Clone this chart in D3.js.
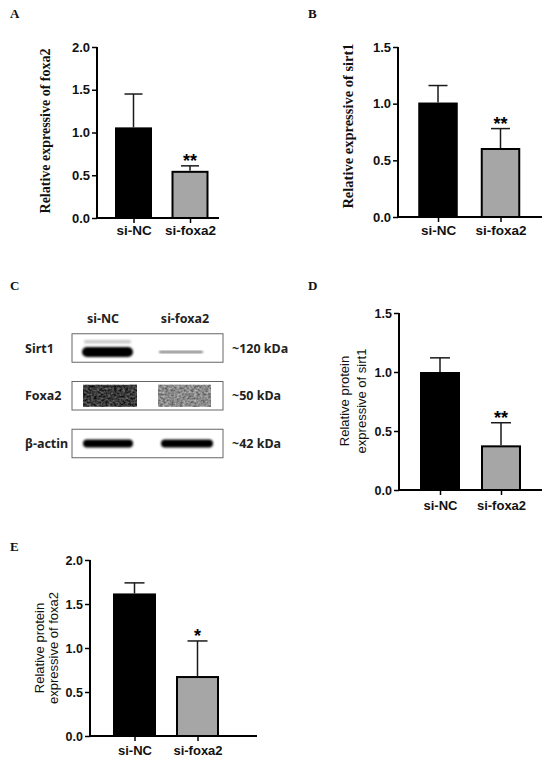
<!DOCTYPE html>
<html><head><meta charset="utf-8">
<script src="https://cdn.jsdelivr.net/npm/d3@7"></script>
<style>body{margin:0;background:#fff}svg{display:block}</style>
</head><body>
<svg id="c" width="550" height="762"></svg>
<script>
// ---- data ----
const groups = ["si-NC", "si-foxa2"];
const aMeans = [1.06, 0.54], aSD = [0.39, 0.07], aSig = ["", "**"];
const bMeans = [1.01, 0.60], bSD = [0.15, 0.18], bSig = ["", "**"];
const dMeans = [1.00, 0.37], dSD = [0.12, 0.20], dSig = ["", "**"];
const eMeans = [1.62, 0.67], eSD = [0.12, 0.41], eSig = ["", "*"];
const ticks2 = [0, 0.5, 1.0, 1.5, 2.0];
const ticks15 = [0, 0.5, 1.0, 1.5];
const blotLanes = ["si-NC", "si-foxa2"];
const blotProteins = ["Sirt1", "Foxa2", "β-actin"];
const blotSizes = ["~120 kDa", "~50 kDa", "~42 kDa"];
const blotIntensity = [[1.0, 0.12], [0.72, 0.32], [1.0, 1.0]];
const panelLetters = ["A", "B", "C", "D", "E"];

const svg = d3.select("#c");
const defs = svg.append("defs");
defs.append("filter").attr("id","blur").attr("x","-20%").attr("y","-50%").attr("width","140%").attr("height","200%")
  .append("feGaussianBlur").attr("stdDeviation", 1.1);
const tex = defs.append("filter").attr("id","tex").attr("x","0").attr("y","0").attr("width","100%").attr("height","100%");
tex.append("feTurbulence").attr("type","fractalNoise").attr("baseFrequency","0.35 0.5").attr("numOctaves",2).attr("seed",3).attr("result","n");
tex.append("feColorMatrix").attr("in","n").attr("type","matrix")
  .attr("values","0 0 0 0 0  0 0 0 0 0  0 0 0 0 0  1.6 0 0 0 -0.35").attr("result","a");
tex.append("feComposite").attr("in","SourceGraphic").attr("in2","a").attr("operator","in");

function barPanel(o) {
  const g = svg.append("g");
  const y = d3.scaleLinear().domain([0, o.ymax]).range([o.y0, o.yTop]);
  const s = o.c[1] - o.c[0], pi = 1 - o.bw / s;
  const x = d3.scaleBand().domain(groups).range([o.c[0] - s/2, o.c[1] + s/2])
    .paddingInner(pi).paddingOuter(pi/2);
  // bars
  g.selectAll("rect.bar").data(groups).join("rect")
    .attr("x", (d,i) => x(d) + (i ? 1 : 0))
    .attr("width", (d,i) => x.bandwidth() - (i ? 2 : 0))
    .attr("y", (d,i) => y(o.means[i]))
    .attr("height", (d,i) => y(0) - y(o.means[i]))
    .attr("fill", (d,i) => i ? "#a6a6a6" : "#000")
    .attr("stroke", "#000").attr("stroke-width", (d,i) => i ? 2 : 0);
  // error bars
  const cx = d => x(d) + x.bandwidth()/2;
  g.selectAll("line.err").data(groups).join("line")
    .attr("x1", cx).attr("x2", cx)
    .attr("y1", (d,i) => y(o.means[i]) - (i ? 1 : 0))
    .attr("y2", (d,i) => y(o.means[i] + o.sd[i]))
    .attr("stroke", "#1a1a1a").attr("stroke-width", 1.5);
  g.selectAll("line.cap").data(groups).join("line")
    .attr("x1", d => cx(d) - o.cap).attr("x2", d => cx(d) + o.cap)
    .attr("y1", (d,i) => y(o.means[i] + o.sd[i]))
    .attr("y2", (d,i) => y(o.means[i] + o.sd[i]))
    .attr("stroke", "#1a1a1a").attr("stroke-width", 1.5);
  // significance
  g.selectAll("text.sig").data(groups).join("text")
    .attr("x", cx).attr("y", (d,i) => y(o.means[i] + o.sd[i]) - o.sigGap)
    .attr("text-anchor","middle")
    .attr("font-family","Liberation Sans, Arial, sans-serif").attr("font-weight","bold")
    .attr("font-size", o.sigSize).text((d,i) => o.sig[i]);
  // y axis
  const ya = g.append("g").attr("transform", `translate(${o.ax},0)`)
    .call(d3.axisLeft(y).tickValues(o.ticks).tickFormat(d3.format(".1f")).tickSize(5).tickPadding(2));
  ya.select(".domain").attr("stroke-width", 2).attr("d", `M0,${o.yTop}V${o.y0}`);
  ya.selectAll(".tick line").attr("stroke-width", 1.5);
  ya.selectAll("text").attr("font-family","Liberation Sans, Arial, sans-serif")
    .attr("font-weight","bold").attr("font-size", o.tickSize).attr("fill","#111");
  // x axis
  const xs = d3.scalePoint().domain(groups).range(o.c);
  const xa = g.append("g").attr("transform", `translate(0,${o.y0})`)
    .call(d3.axisBottom(xs).tickSize(5).tickPadding(4));
  xa.select(".domain").attr("stroke-width", 2).attr("d", `M${o.ax - 1},0H${o.xEnd}`);
  xa.selectAll(".tick line").attr("stroke-width", 1.5);
  xa.selectAll("text").attr("font-family","Liberation Sans, Arial, sans-serif")
    .attr("font-weight","bold").attr("font-size", o.xSize).attr("fill","#111")
    .attr("dy", null).attr("y", o.xLabY - o.y0);
  // y label
  const lab = g.append("text").attr("transform", `translate(${o.lx},${o.ly}) rotate(-90)`)
    .attr("text-anchor","middle").attr("font-family", o.lFont)
    .attr("font-weight", o.lWeight).attr("font-size", o.lSize).attr("fill","#111");
  o.label.forEach((t, i) => lab.append("tspan").attr("x", 0).attr("dy", i ? o.lGap : 0).text(t));
}

barPanel({means:aMeans, sd:aSD, sig:aSig, ymax:2, ticks:ticks2, ax:97, yTop:47, y0:218, xEnd:219,
  c:[133.5,190], bw:37, cap:9, sigGap:-1, sigSize:18, tickSize:13, xSize:13.5, xLabY:235,
  label:["Relative expressive of foxa2"], lx:50, ly:131, lFont:"Liberation Serif, Times New Roman, serif",
  lWeight:"bold", lSize:14, lGap:0});
barPanel({means:bMeans, sd:bSD, sig:bSig, ymax:1.5, ticks:ticks15, ax:398, yTop:47, y0:217, xEnd:542,
  c:[438,500.5], bw:39.5, cap:9.5, sigGap:-1, sigSize:18, tickSize:13, xSize:13.5, xLabY:235,
  label:["Relative expressive of sirt1"], lx:353, ly:126, lFont:"Liberation Serif, Times New Roman, serif",
  lWeight:"bold", lSize:14.5, lGap:0});
barPanel({means:dMeans, sd:dSD, sig:dSig, ymax:1.5, ticks:ticks15, ax:399, yTop:313, y0:490, xEnd:542,
  c:[440,501], bw:40, cap:10, sigGap:-1, sigSize:18, tickSize:12.5, xSize:13, xLabY:510,
  label:["Relative protein","expressive of sirt1"], lx:349, ly:401, lFont:"Liberation Sans, Arial, sans-serif",
  lWeight:"normal", lSize:13, lGap:16.5});
barPanel({means:eMeans, sd:eSD, sig:eSig, ymax:2, ticks:ticks2, ax:90, yTop:560, y0:736, xEnd:257,
  c:[134.5,197.5], bw:43, cap:10, sigGap:-1, sigSize:18, tickSize:12.5, xSize:13, xLabY:755,
  label:["Relative protein","expressive of foxa2"], lx:44, ly:648, lFont:"Liberation Sans, Arial, sans-serif",
  lWeight:"normal", lSize:13, lGap:14});

// ---- Western blot panel C ----
const wb = svg.append("g");
const laneX = d3.scalePoint().domain(blotLanes).range([106, 185]);
const rowY = d3.scalePoint().domain(blotProteins).range([348, 443.5]);
const boxH = 28.5;
const fontC = "Noto Sans, Open Sans, sans-serif";
wb.selectAll("text.hdr").data(blotLanes).join("text")
  .attr("x", (d,i) => laneX(d) - (i ? 0 : 3)).attr("y", 322.5).attr("text-anchor","middle")
  .attr("font-family", fontC).attr("font-weight","bold").attr("font-size", 12.5).attr("fill","#222").text(d => d);
wb.selectAll("rect.box").data(blotProteins).join("rect")
  .attr("x", 72).attr("width", 151).attr("y", d => rowY(d) - boxH/2).attr("height", boxH)
  .attr("fill", "#fff").attr("stroke", "#666").attr("stroke-width", 1);
wb.selectAll("text.prot").data(blotProteins).join("text")
  .attr("x", 25).attr("y", d => rowY(d) + 4.5)
  .attr("font-family", fontC).attr("font-weight","bold").attr("font-size", 12.5).attr("fill","#222").text(d => d);
wb.selectAll("text.kda").data(blotSizes).join("text")
  .attr("x", 232).attr("y", (d,i) => rowY(blotProteins[i]) + 4.5)
  .attr("font-family", fontC).attr("font-weight","bold").attr("font-size", 12.5).attr("fill","#222").text(d => d);
const grey = v => d3.interpolateRgb("#f2f2f2", "#050505")(v);
// Sirt1 bands
blotLanes.forEach((l, i) => {
  const v = blotIntensity[0][i];
  const cx = laneX(l) + (i ? -4 : 1.5);
  const w = i ? 44 : 51, h = i ? 2 : 10;
  wb.append("rect").attr("x", cx - w/2).attr("y", rowY("Sirt1") + 4 - h/2).attr("width", w).attr("height", h)
    .attr("rx", h/2).attr("fill", i ? "#6a6a6a" : grey(v)).attr("filter", "url(#blur)");
  if (!i) wb.append("rect").attr("x", cx - w/2 + 2).attr("y", rowY("Sirt1") - 8).attr("width", w - 4).attr("height", 3.5)
    .attr("rx", 1.5).attr("fill", "#c9c9c9").attr("filter", "url(#blur)");
});
// Foxa2 bands (textured blocks)
blotLanes.forEach((l, i) => {
  const v = blotIntensity[1][i];
  const cx = laneX(l) + (i ? -0.5 : 4);
  const w = i ? 53 : 54;
  wb.append("rect").attr("x", cx - w/2).attr("y", rowY("Foxa2") - 11).attr("width", w).attr("height", 22)
    .attr("fill", grey(v * 0.8));
  wb.append("rect").attr("x", cx - w/2).attr("y", rowY("Foxa2") - 11).attr("width", w).attr("height", 22)
    .attr("fill", grey(Math.min(1, v + 0.35))).attr("filter", "url(#tex)");
});
// beta-actin bands
blotLanes.forEach((l, i) => {
  const v = blotIntensity[2][i];
  const cx = laneX(l) + (i ? 2 : 2);
  const w = i ? 52 : 50;
  wb.append("rect").attr("x", cx - w/2).attr("y", rowY("β-actin") - 4).attr("width", w).attr("height", 8)
    .attr("rx", 4).attr("fill", grey(v)).attr("filter", "url(#blur)");
});

// ---- panel letters ----
const letterPos = [[10,18],[308,18],[10,290],[308,290],[10,551]];
svg.selectAll("text.letter").data(panelLetters).join("text")
  .attr("x", (d,i) => letterPos[i][0]).attr("y", (d,i) => letterPos[i][1])
  .attr("font-family","Liberation Serif, Times New Roman, serif").attr("font-weight","bold")
  .attr("font-size", 13).attr("fill","#111").text(d => d);
</script>
</body></html>
